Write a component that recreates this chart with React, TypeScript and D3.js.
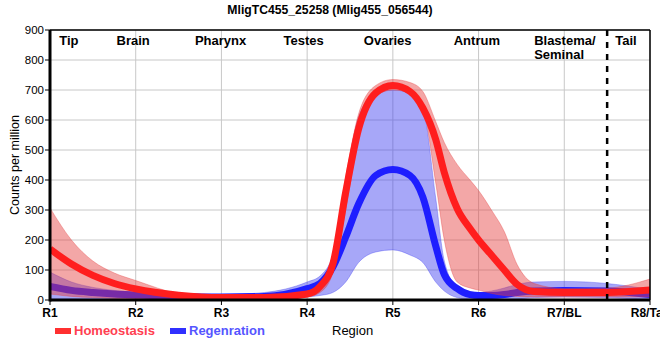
import React from 'react';
import * as d3 from 'd3';

const xs = [1, 1.25, 1.5, 1.75, 2, 2.5, 3, 3.5, 4, 4.15, 4.3, 4.45, 4.6, 4.8, 5, 5.2, 5.35, 5.5, 5.6, 5.75, 5.9, 6, 6.15, 6.3, 6.45, 6.65, 7, 7.5, 8];

const homeoMean = [170, 120, 82, 55, 37, 16, 8, 8, 20, 45, 120, 360, 570, 690, 715, 695, 640, 535, 425, 305, 238, 200, 150, 100, 52, 28, 25, 25, 33];
const homeoUpper = [307, 200, 130, 90, 65, 20, 5, 8, 30, 55, 140, 410, 620, 715, 735, 725, 695, 595, 525, 452, 400, 365, 300, 228, 118, 55, 38, 40, 70];
const homeoLower = [20, 12, 8, 5, 3, 0, 0, 0, 10, 25, 90, 300, 540, 680, 700, 690, 640, 390, 200, 60, 40, 33, 22, 15, 12, 10, 10, 10, 10];

const regenMean = [45, 32, 25, 20, 17, 12, 10, 12, 38, 55, 110, 210, 320, 415, 435, 415, 343, 180, 85, 38, 18, 15, 15, 18, 25, 30, 32, 30, 18];
const regenUpper = [93, 60, 42, 32, 26, 20, 18, 25, 60, 80, 150, 400, 610, 690, 700, 690, 640, 340, 130, 43, 28, 25, 30, 40, 52, 60, 62, 55, 35];
const regenLower = [5, 3, 2, 1, 0, 0, 0, 2, 10, 15, 25, 60, 125, 160, 167, 150, 125, 60, 30, 8, 2, 0, 0, 0, 2, 8, 10, 8, 0];

const xTickLabels = ['R1', 'R2', 'R3', 'R4', 'R5', 'R6', 'R7/BL', 'R8/Tail'];
const yTicks = [0, 100, 200, 300, 400, 500, 600, 700, 800, 900];
const regionNames = ['Tip', 'Brain', 'Pharynx', 'Testes', 'Ovaries', 'Antrum', 'Blastema/|Seminal', 'Tail'];
const regionPos = [1.22, 1.97, 2.99, 3.96, 4.94, 5.98, 7.01, 7.72];
const dividerPos = 7.5;

const title = 'MligTC455_25258 (Mlig455_056544)';

export default function App() {
  const left = 50, right = 650, top = 30, bottom = 300;
  const x = d3.scaleLinear().domain([1, 8]).range([left, right]);
  const y = d3.scaleLinear().domain([0, 900]).range([bottom, top]);
  const font = '"Liberation Sans", Arial, sans-serif';

  const area = (lo: number[], hi: number[]) =>
    d3.area<number>().x((_, i) => x(xs[i])).y0((_, i) => y(lo[i])).y1((_, i) => y(hi[i])).curve(d3.curveMonotoneX)(xs) || '';
  const line = (v: number[]) =>
    d3.line<number>().x((_, i) => x(xs[i])).y((_, i) => y(v[i])).curve(d3.curveMonotoneX)(xs) || '';

  return (
    <svg width={660} height={360} style={{ position: 'absolute', left: 0, top: 0, background: '#fff' }} fontFamily={font}>
      <defs>
        <clipPath id="plot">
          <rect x={left} y={top} width={right - left} height={bottom - top} />
        </clipPath>
      </defs>
      <text x={330} y={14} textAnchor="middle" fontSize={12.2} fontWeight="bold">{title}</text>
      {/* grid */}
      {yTicks.map(t => (
        <line key={'gy' + t} x1={left} x2={right} y1={y(t)} y2={y(t)} stroke="#c8c8c8" strokeWidth={1} />
      ))}
      {xTickLabels.map((_, i) => (
        <line key={'gx' + i} x1={x(i + 1)} x2={x(i + 1)} y1={top} y2={bottom} stroke="#c8c8c8" strokeWidth={1} />
      ))}
      <g clipPath="url(#plot)">
        <path d={area(regenLower, regenUpper)} fill="rgba(60,60,240,0.45)" stroke="rgba(60,60,240,0.35)" strokeWidth={1} />
        <path d={line(regenMean)} fill="none" stroke="#1e1eff" strokeWidth={7} />
        <path d={area(homeoLower, homeoUpper)} fill="rgba(228,60,60,0.45)" stroke="rgba(228,60,60,0.35)" strokeWidth={1} />
        <path d={line(homeoMean)} fill="none" stroke="#ff1e1e" strokeWidth={7} />
      </g>
      {/* border */}
      <line x1={left} x2={right} y1={top} y2={top} stroke="#000" strokeWidth={1.5} />
      <line x1={right} x2={right} y1={top} y2={bottom} stroke="#000" strokeWidth={1.5} />
      <line x1={x(dividerPos)} x2={x(dividerPos)} y1={top} y2={bottom} stroke="#000" strokeWidth={2.5} strokeDasharray="6,6" />
      {/* axes */}
      <line x1={left} x2={left} y1={top} y2={bottom + 1.5} stroke="#000" strokeWidth={3} />
      <line x1={left} x2={right} y1={bottom} y2={bottom} stroke="#000" strokeWidth={3} />
      {yTicks.map(t => (
        <g key={'yt' + t}>
          <line x1={left - 5} x2={left} y1={y(t)} y2={y(t)} stroke="#000" strokeWidth={1} />
          <text x={left - 6} y={y(t) + 4} textAnchor="end" fontSize={11.5}>{t}</text>
        </g>
      ))}
      {xTickLabels.map((l, i) => (
        <g key={'xt' + i}>
          <line x1={x(i + 1)} x2={x(i + 1)} y1={bottom} y2={bottom + 5} stroke="#000" strokeWidth={1} />
          <text x={x(i + 1)} y={317} textAnchor="middle" fontSize={12} fontWeight="bold">{l}</text>
        </g>
      ))}
      <text transform={`translate(19,165) rotate(-90)`} textAnchor="middle" fontSize={12.5}>Counts per million</text>
      {/* region labels */}
      {regionNames.map((n, i) => {
        const parts = n.split('|');
        if (parts.length > 1) {
          const xl = x(regionPos[i]) - 31;
          return (
            <text key={'rn' + i} x={xl} y={45} fontSize={13} fontWeight="bold">
              <tspan x={xl} y={45}>{parts[0]}</tspan>
              <tspan x={xl} y={59}>{parts[1]}</tspan>
            </text>
          );
        }
        return <text key={'rn' + i} x={x(regionPos[i])} y={45} textAnchor="middle" fontSize={13} fontWeight="bold">{n}</text>;
      })}
      {/* legend */}
      <rect x={55} y={328} width={16} height={6} fill="#ff3030" />
      <text x={74} y={335} fontSize={13} fontWeight="bold" fill="#ff4050">Homeostasis</text>
      <rect x={170} y={328} width={16} height={6} fill="#3030ff" />
      <text x={189} y={335} fontSize={13} fontWeight="bold" fill="#5555ff">Regenration</text>
      <text x={332} y={335} fontSize={13}>Region</text>
    </svg>
  );
}
